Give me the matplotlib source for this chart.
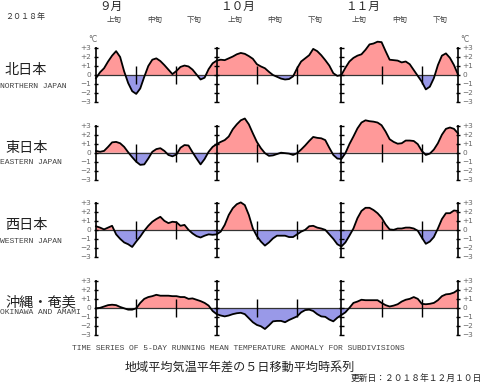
import numpy as np
import matplotlib
matplotlib.use("Agg")
import matplotlib.pyplot as plt

# ---------------- data (°C anomaly, 5-day running mean, Sep 1 .. Nov 30 2018) -------------
north = [-0.35, 0.3, 0.75, 1.5, 2.15, 2.65, 2.0, 0.4, -0.9, -1.8,
         -2.1, -1.5, -0.2, 1.0, 1.7, 1.85, 1.55, 1.1, 0.6, 0.1,
         0.45, 0.9, 1.05, 0.95, 0.6, 0.05, -0.5, -0.3, 0.65, 1.3,
         1.6, 1.7, 1.65, 1.85, 2.05, 2.3, 2.45, 2.35, 2.1, 1.8,
         1.2, 0.95, 0.75, 0.35, 0.0, -0.2, -0.4, -0.5, -0.45, -0.15,
         0.75, 1.5, 1.85, 2.2, 2.9, 2.65, 2.2, 1.65, 1.05, 0.2,
         -0.1, 0.0, 0.8, 1.5, 1.9, 2.15, 2.3, 2.8, 3.4, 3.5,
         3.7, 3.65, 2.65, 1.7, 1.65, 1.6, 1.4, 1.5, 1.2, 0.55,
         -0.1, -0.75, -1.6, -1.3, -0.35, 1.1, 2.15, 2.4, 1.9, 1.1, 0.05]
east = [0.2, 0.1, 0.2, 0.65, 1.15, 1.2, 1.05, 0.65, 0.05, -0.5,
        -1.0, -1.35, -1.3, -0.65, 0.1, 0.4, 0.5, 0.2, -0.25, -0.4,
        -0.2, 0.55, 0.85, 0.8, 0.05, -0.65, -1.3, -0.7, 0.1, 0.65,
        0.95, 1.2, 1.4, 1.8, 2.6, 3.15, 3.6, 3.8, 3.15, 2.15,
        1.2, 0.5, -0.05, -0.35, -0.3, -0.15, 0.0, -0.05, -0.1, -0.25,
        -0.05, 0.35, 0.8, 1.3, 1.75, 1.65, 1.6, 1.4, 0.55, -0.25,
        -0.65, -0.7, -0.05, 0.95, 1.8, 2.7, 3.35, 3.6, 3.5, 3.45,
        3.35, 3.05, 2.35, 1.5, 1.2, 1.0, 1.05, 1.35, 1.35, 1.3,
        0.95, 0.2, -0.25, -0.1, 0.35, 1.05, 2.0, 2.65, 2.8, 2.65, 2.15]
west = [0.45, 0.3, 0.1, 0.3, 0.5, -0.45, -0.95, -1.35, -1.55, -1.85,
        -1.25, -0.7, -0.05, 0.5, 0.95, 1.25, 1.5, 1.05, 0.8, 0.95,
        0.9, 0.5, 0.6, 0.05, -0.35, -0.65, -0.8, -0.6, -0.45, -0.5,
        -0.45, -0.15, 0.6, 1.7, 2.45, 2.9, 3.1, 2.8, 1.7, 0.2,
        -0.65, -1.25, -1.7, -1.35, -0.9, -0.6, -0.6, -0.6, -0.75, -0.75,
        -0.45, -0.15, 0.05, 0.45, 0.5, 0.3, 0.2, 0.05, -0.45, -0.95,
        -1.55, -1.8, -1.35, -0.6, 0.2, 1.35, 2.15, 2.5, 2.5, 2.25,
        1.9, 1.4, 0.65, 0.1, 0.05, 0.2, 0.2, 0.3, 0.3, 0.2,
        -0.05, -0.8, -1.5, -1.25, -0.75, 0.2, 1.25, 1.9, 1.9, 2.2, 2.15]
okinawa = [0.0, 0.05, 0.2, 0.35, 0.4, 0.35, 0.15, 0.0, -0.15, -0.15,
           0.0, 0.6, 1.05, 1.25, 1.35, 1.5, 1.4, 1.4, 1.4, 1.35,
           1.35, 1.25, 1.25, 1.05, 1.1, 0.95, 0.8, 0.6, 0.3, -0.3,
           -0.65, -0.8, -0.9, -0.8, -0.65, -0.55, -0.5, -0.65, -1.1, -1.55,
           -1.85, -2.0, -2.3, -1.9, -1.45, -1.4, -1.4, -1.55, -1.3, -1.1,
           -0.9, -0.45, -0.2, -0.15, -0.3, -0.65, -0.9, -0.95, -1.25, -1.45,
           -1.05, -0.75, -0.45, 0.05, 0.6, 0.75, 0.95, 0.9, 0.9, 0.9,
           0.9, 0.6, 0.35, 0.2, 0.3, 0.45, 0.75, 0.95, 1.05, 1.25,
           1.05, 0.5, 0.45, 0.5, 0.6, 0.9, 1.35, 1.55, 1.6, 1.75, 2.05]

regions_jp = ["北日本", "東日本", "西日本", "沖縄・奄美"]
regions_en = ["NORTHERN JAPAN", "EASTERN JAPAN", "WESTERN JAPAN", "OKINAWA AND AMAMI"]
series = [north, east, west, okinawa]

month_labels = ["９月", "１０月", "１１月"]
month_starts = [0, 30, 61]
dekad_labels = ["上旬", "中旬", "下旬"]
tick_vals = [3, 2, 1, 0, -1, -2, -3]
tick_text = ["+3", "+2", "+1", "0", "\u22121", "\u22122", "\u22123"]

# ---------------- layout --------------------------------------------------
W, H = 484, 382
fig = plt.figure(figsize=(W / 100, H / 100), dpi=100)
fig.patch.set_facecolor("white")

JP = ["Noto Sans CJK JP", "DejaVu Sans"]
MONO = ["Liberation Mono", "DejaVu Sans Mono"]

x0_px, x1_px = 96.0, 458.0
ndays = len(north)
k = (x1_px - x0_px) / (ndays - 1)          # px per day
xlim = (-x0_px / k, (W - x0_px) / k)
unit = 9.0                                 # px per °C
ytop, ybot = 4.3, -3.7
zeros_px = [75.0, 152.7, 230.3, 308.3]

days = np.arange(ndays)
dekad_bounds = []
for ms in month_starts:
    dekad_bounds += [ms + 10, ms + 20]
month_bounds = month_starts[1:]

RED = "#ff9999"
BLUE = "#9999e8"
TICKC = "#666666"


def fx(px):
    return px / W


def fy(py):
    return 1 - py / H


for i, (vals, zp) in enumerate(zip(series, zeros_px)):
    top_px = zp - ytop * unit
    bot_px = zp - ybot * unit
    ax = fig.add_axes([0, fy(bot_px), 1, (bot_px - top_px) / H])
    ax.set_xlim(*xlim)
    ax.set_ylim(ybot, ytop)
    ax.axis("off")
    v = np.array(vals)
    ax.fill_between(days, v, 0, where=v >= 0, interpolate=True,
                    color=RED, lw=0, zorder=1)
    ax.fill_between(days, v, 0, where=v <= 0, interpolate=True,
                    color=BLUE, lw=0, zorder=1)
    ax.hlines(0, 0, ndays - 1, color="#333333", lw=0.9, zorder=2)
    # axis and month boundary lines with tick crosses
    for xb in [0, ndays - 1] + month_bounds:
        ax.vlines(xb, -3.1, 3.1, color="black", lw=1.2, zorder=3)
        ax.hlines(tick_vals, xb - 0.55, xb + 0.55, color="black", lw=1.0, zorder=3)
    for xb in dekad_bounds:
        if xb < ndays - 1:
            ax.vlines(xb, -1, 1, color="black", lw=1.0, zorder=3)
    ax.plot(days, v, color="black", lw=1.3, zorder=4, solid_joinstyle="round")
    # tick labels
    for tv, tt in zip(tick_vals, tick_text):
        ax.text(-1.2, tv, tt, ha="right", va="center", fontsize=5.3,
                color=TICKC, family="DejaVu Sans")
        ax.text(ndays - 1 + 1.0, tv, tt, ha="left", va="center", fontsize=5.3,
                color=TICKC, family="DejaVu Sans")
    if i == 0:
        ax.text(-0.7, 4.0, "°C", ha="center", va="center", fontsize=5.5,
                color=TICKC, family="DejaVu Sans")
        ax.text(ndays - 1 + 1.7, 4.0, "°C", ha="center", va="center", fontsize=5.5,
                color=TICKC, family="DejaVu Sans")

# region names
jp_y = [70, 148, 225, 302]
en_y = [86, 163, 242, 313]
for name, en, yj, ye in zip(regions_jp, regions_en, jp_y, en_y):
    fig.text(fx(5), fy(yj), name, ha="left", va="center", fontsize=10.2,
             family=JP, color="#222222")
    fig.text(fx(0), fy(ye), en, ha="left", va="center", fontsize=5.8,
             family=MONO, color="#444444")

# header: year, months, dekads
fig.text(fx(5), fy(16), "２０１８年", ha="left", va="center", fontsize=5.8,
         family=JP, color="#333333")
for lab, ms in zip(month_labels, month_starts):
    fig.text(fx(x0_px + ms * k + 3.5), fy(6), lab, ha="left", va="center",
             fontsize=8.4, family=JP, color="#222222")
    for j, dl in enumerate(dekad_labels):
        fig.text(fx(x0_px + (ms + 10 * j + 4.5) * k), fy(20), dl, ha="center",
                 va="center", fontsize=5.4, family=JP, color="#444444")

# footer
fig.text(fx(238), fy(348),
         "TIME SERIES OF 5-DAY RUNNING MEAN TEMPERATURE ANOMALY FOR SUBDIVISIONS",
         ha="center", va="center", fontsize=5.8, family=MONO, color="#444444")
fig.text(fx(240), fy(367), "地域平均気温平年差の５日移動平均時系列", ha="center",
         va="center", fontsize=8.7, family=JP, color="#222222")
fig.text(fx(482), fy(378), "更新日：２０１８年１２月１０日", ha="right",
         va="center", fontsize=6.3, family=JP, color="#222222")

fig.savefig("out.png", dpi=100, facecolor="white")
